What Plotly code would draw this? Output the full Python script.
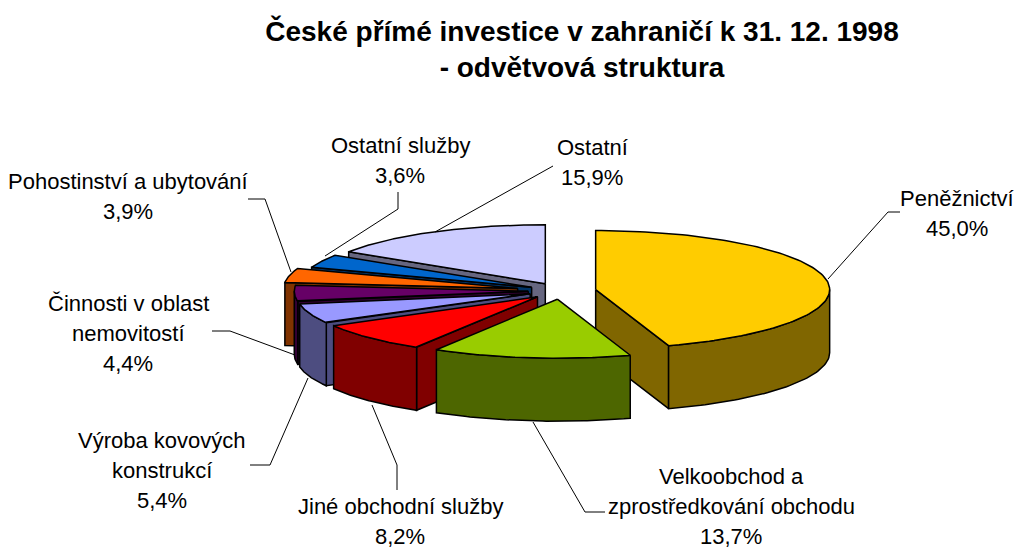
import numpy as np
import plotly.graph_objects as go

# --- data -------------------------------------------------------------
sectors = ["Peněžnictví", "Velkoobchod a zprostředkování obchodu", "Jiné obchodní služby",
           "Výroba kovových konstrukcí", "Činnosti v oblast nemovitostí",
           "Pohostinství a ubytování", "Ostatní služby", "Ostatní"]
shares = [45.0, 13.7, 8.2, 5.4, 4.4, 3.9, 3.6, 15.9]
share_text = ["45,0%", "13,7%", "8,2%", "5,4%", "4,4%", "3,9%", "3,6%", "15,9%"]
label_lines = [["Peněžnictví"], ["Velkoobchod a", "zprostředkování obchodu"], ["Jiné obchodní služby"],
               ["Výroba kovových", "konstrukcí"], ["Činnosti v oblast", "nemovitostí"],
               ["Pohostinství a ubytování"], ["Ostatní služby"], ["Ostatní"]]
title_text = "České přímé investice v zahraničí k 31. 12. 1998<br>- odvětvová struktura"

# --- style / layout ---------------------------------------------------
top_colors = ["#FFCC00", "#99CC00", "#FF0000", "#9999FF", "#660066", "#FF6600", "#0066CC", "#CCCCFF"]
side_colors = ["#806600", "#4D6600", "#800000", "#4D4D80", "#330033", "#803300", "#003366", "#666680"]
pull = [0.15, 0.14, 0.14, 0.14, 0.14, 0.19, 0.14, 0.14]
CX, CY, RX, RY, DEPTH = 561, 291, 234, 59, 63
label_pos = [(957, 198), (731, 476), (400, 506), (162, 440), (128, 303), (128, 181), (400, 145), (592, 147)]
LINE_STEP = 30
leaders = [([900, 888, 828], [212, 212, 279]),
           ([605, 585, 533], [512, 512, 422]),
           ([397, 397, 372], [490, 465, 405]),
           ([250, 270, 308], [465, 465, 378]),
           ([212, 230, 295], [331, 331, 355]),
           ([248, 265, 291], [199, 199, 272]),
           ([398, 398, 325], [192, 209, 256]),
           ([553, 435], [166, 232])]

fig = go.Figure()


def face(xs, ys, color):
    fig.add_trace(go.Scatter(x=xs, y=ys, mode="lines", fill="toself", fillcolor=color,
                             line=dict(color="#000000", width=1.5), hoverinfo="skip",
                             showlegend=False))


edges = np.concatenate([[0], np.cumsum(shares)]) / np.sum(shares) * 360.0
draw_order = [7, 6, 5, 4, 3, 2, 0, 1]
for i in draw_order:
    a0, a1 = edges[i], edges[i + 1]
    mid = np.radians((a0 + a1) / 2)
    ax = CX + pull[i] * RX * np.sin(mid)
    ay = CY - pull[i] * RY * np.cos(mid)
    px = lambda a: ax + RX * np.sin(np.radians(a))
    py = lambda a: ay - RY * np.cos(np.radians(a))
    # radial walls facing the viewer
    if np.sin(np.radians(a0)) < -1e-6:
        face([ax, px(a0), px(a0), ax, ax], [ay, py(a0), py(a0) + DEPTH, ay + DEPTH, ay], side_colors[i])
    if np.sin(np.radians(a1)) > 1e-6:
        face([ax, px(a1), px(a1), ax, ax], [ay, py(a1), py(a1) + DEPTH, ay + DEPTH, ay], side_colors[i])
    # outer wall (front half only)
    lo, hi = max(a0, 90.0), min(a1, 270.0)
    if hi > lo:
        t = np.linspace(lo, hi, 60)
        face(np.r_[px(t), px(t)[::-1], px(lo)], np.r_[py(t), py(t)[::-1] + DEPTH, py(lo)], side_colors[i])
    # top
    t = np.linspace(a0, a1, 120)
    face(np.r_[ax, px(t), ax], np.r_[ay, py(t), ay], top_colors[i])

for lx, ly in leaders:
    fig.add_trace(go.Scatter(x=lx, y=ly, mode="lines", line=dict(color="#000000", width=1),
                             hoverinfo="skip", showlegend=False))

for i, lines in enumerate(label_lines):
    x0, y0 = label_pos[i]
    for k, txt in enumerate(lines + [share_text[i]]):
        fig.add_annotation(x=x0, y=y0 + k * LINE_STEP, text=txt, showarrow=False,
                           xref="x", yref="y", xanchor="center", yanchor="middle",
                           font=dict(family="Liberation Sans", size=22, color="#000000"))

fig.update_layout(
    width=1014, height=549, autosize=False,
    margin=dict(l=0, r=0, t=0, b=0),
    paper_bgcolor="#FFFFFF", plot_bgcolor="#FFFFFF",
    showlegend=False,
    title=dict(text=title_text, x=582 / 1014, xanchor="center", y=1 - 41 / 549, yanchor="top",
               font=dict(family="Liberation Sans", size=28, color="#000000", weight="bold")),
    xaxis=dict(range=[0, 1014], visible=False, fixedrange=True),
    yaxis=dict(range=[549, 0], visible=False, fixedrange=True),
)
fig.write_html("out.html", config={"displayModeBar": False},
               post_script="document.body.style.margin='0';document.body.style.overflow='hidden';")
